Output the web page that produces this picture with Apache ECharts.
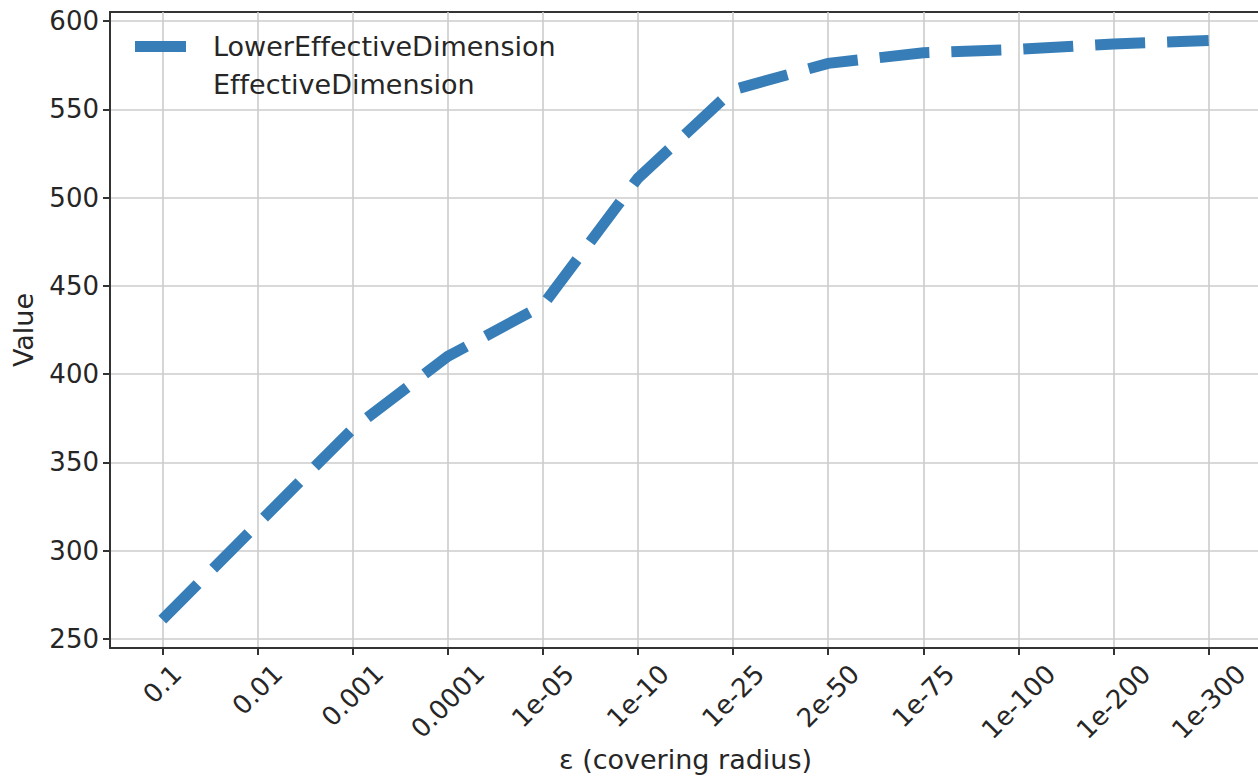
<!DOCTYPE html>
<html>
<head>
<meta charset="utf-8">
<script src="https://cdn.jsdelivr.net/npm/echarts@6/dist/echarts.min.js"></script>
<style>
html,body{margin:0;padding:0;background:#fff;}
#chart{width:1258px;height:776px;}
#chart, #chart svg, #chart text, #chart tspan { font-variant-ligatures: none; font-feature-settings: "liga" 0, "clig" 0; }
</style>
</head>
<body>
<div id="chart"></div>
<script>
// ---- data ----
const categories = ['0.1','0.01','0.001','0.0001','1e-05','1e-10','1e-25','2e-50','1e-75','1e-100','1e-200','1e-300'];
const lowerEffectiveDimension = [261, 315, 369, 410, 439, 511, 561, 576, 582, 584, 587, 589];
const effectiveDimension = [];
const yTicks = [250, 300, 350, 400, 450, 500, 550, 600];
const seriesNames = ['LowerEffectiveDimension', 'EffectiveDimension'];

// ---- styling ----
const FONT = '"DejaVu Sans", sans-serif';
const TICK_FS = 26;
const LABEL_FS = 27;
const TXT = '#262626';
const BLUE = '#377eb8';

// measure label widths to mimic centered rotated tick labels
const cv = document.createElement('canvas').getContext('2d');
cv.font = TICK_FS + 'px "DejaVu Sans"';
const rich = {};
categories.forEach((c, i) => {
  const w = cv.measureText(c).width;
  const h = TICK_FS;
  const p = Math.round((w + h) / 2);
  rich['l' + i] = { fontSize: TICK_FS, fontFamily: FONT, color: TXT, padding: [p, p, 0, 0] };
});

const xIdx = categories.map((c, i) => i);
const lowerData = lowerEffectiveDimension.map((v, i) => [xIdx[i], v]);

const chart = echarts.init(document.getElementById('chart'), null, { renderer: 'svg' });
chart.setOption({
  animation: false,
  backgroundColor: '#ffffff',
  grid: {
    left: 110, top: 12, width: 1151, height: 636,
    containLabel: false,
    outerBoundsMode: 'none',
    show: true, borderColor: '#333333', borderWidth: 2, backgroundColor: 'transparent'
  },
  legend: {
    orient: 'vertical',
    left: 135, top: 33,
    padding: 0,
    itemWidth: 51, itemHeight: 11, itemGap: 11,
    textStyle: { fontSize: LABEL_FS, fontFamily: FONT, color: TXT, padding: [0, 0, 0, 22] },
    data: [
      { name: seriesNames[0], icon: 'rect' },
      { name: seriesNames[1], icon: 'rect', itemStyle: { color: 'rgba(0,0,0,0)', opacity: 0 } }
    ]
  },
  xAxis: {
    type: 'value',
    min: -0.55, max: 11.55,
    name: 'ε (covering radius)',
    nameLocation: 'middle',
    nameGap: 98,
    nameMoveOverlap: false,
    nameTextStyle: { fontSize: LABEL_FS, fontFamily: FONT, color: TXT },
    axisLine: { show: true, onZero: false, lineStyle: { color: '#333333', width: 2 } },
    axisTick: { show: true, customValues: xIdx, length: 7, lineStyle: { color: '#333333', width: 2 } },
    axisLabel: {
      show: true,
      customValues: xIdx,
      rotate: 45,
      align: 'center',
      verticalAlign: 'middle',
      margin: 12,
      fontSize: TICK_FS, fontFamily: FONT, color: TXT,
      formatter: (v) => {
        const i = Math.round(v);
        return '{l' + i + '|' + categories[i] + '}';
      },
      rich: rich
    },
    splitLine: { show: true, lineStyle: { color: '#cccccc', width: 1.6 } }
  },
  yAxis: {
    type: 'value',
    min: 244.9, max: 605.1,
    name: 'Value',
    nameLocation: 'middle',
    nameGap: 73,
    nameMoveOverlap: false,
    nameTextStyle: { fontSize: LABEL_FS, fontFamily: FONT, color: TXT },
    axisLine: { show: true, onZero: false, lineStyle: { color: '#333333', width: 2 } },
    axisTick: { show: true, customValues: yTicks, length: 7, lineStyle: { color: '#333333', width: 2 } },
    axisLabel: { show: true, customValues: yTicks, margin: 11, fontSize: TICK_FS, fontFamily: FONT, color: TXT },
    splitLine: { show: true, lineStyle: { color: '#cccccc', width: 1.6 } }
  },
  series: [
    {
      name: seriesNames[0],
      type: 'line',
      data: lowerData,
      symbol: 'none',
      smooth: false,
      color: BLUE,
      lineStyle: { color: BLUE, width: 11, type: [50, 22], cap: 'butt', join: 'miter' },
      z: 3
    },
    {
      name: seriesNames[1],
      type: 'line',
      data: effectiveDimension,
      symbol: 'none',
      color: 'rgba(0,0,0,0)',
      lineStyle: { width: 0 }
    }
  ]
});
</script>
</body>
</html>
